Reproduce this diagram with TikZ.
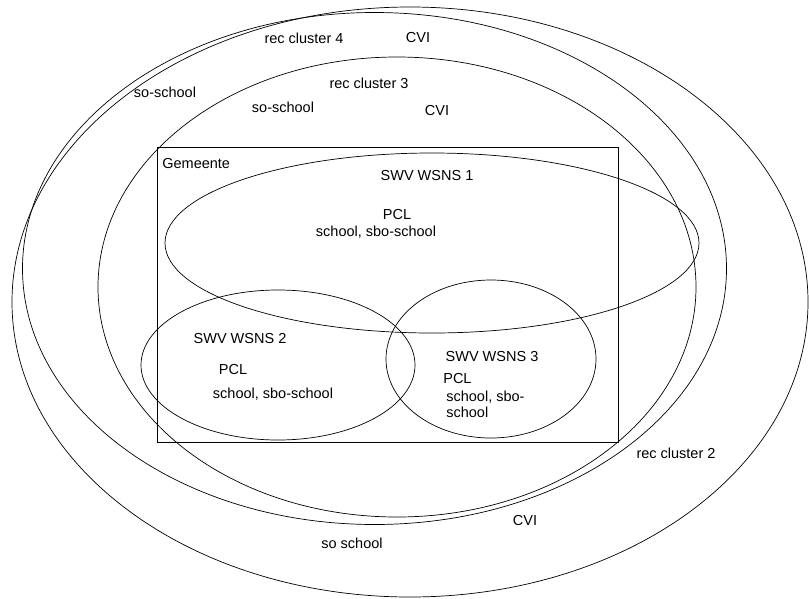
\documentclass[tikz,border=0pt]{standalone}
\usepackage{fontspec}
\setmainfont{Liberation Sans}

\begin{document}
\begin{tikzpicture}[x=1pt, y=-1pt, line width=0.7pt,
		lbl/.style={anchor=base, inner sep=0pt, font=\fontsize{14.5}{16}\selectfont},
		lblw/.style={lbl, anchor=base west}]
		\useasboundingbox (0,0) rectangle (809,598);

		\coordinate (clus2) at (410,302);
		\coordinate (clus4) at (374.5,268.5);
		\coordinate (clus3) at (397,287);

		\coordinate (gem-nw) at (157,147);
		\coordinate (gem-se) at (618,442);

		\coordinate (wsns1) at (432,243);
		\coordinate (wsns2) at (278,365);
		\coordinate (wsns3) at (491,359);

		\draw (clus2) ellipse [x radius=398, y radius=295];
		\draw (clus4) ellipse [x radius=352, y radius=256];
		\draw (clus3) ellipse [x radius=299, y radius=230];

		\draw (gem-nw) rectangle (gem-se);

		\draw (wsns1) ellipse [x radius=267, y radius=90];
		\draw (wsns2) ellipse [x radius=137, y radius=75];
		\draw (wsns3) ellipse [x radius=105, y radius=79];

		\node[lbl] (rc4) at (304,43) {rec cluster 4};
		\node[lbl] (cvi4) at (418,42) {CVI};
		\node[lbl] (so4) at (165,97) {so-school};
		\node[lbl] (rc3) at (369,88) {rec cluster 3};
		\node[lbl] (so3) at (283,112) {so-school};
		\node[lbl] (cvi3) at (437,115) {CVI};
		\node[lblw] (gem) at (162,168) {Gemeente};

		\node[lbl] (sw1) at (427,180) {SWV WSNS 1};
		\node[lbl] (pcl1) at (397,219) {PCL};
		\node[lbl] (sch1) at (376,236) {school, sbo-school};

		\node[lbl] (sw2) at (240,343) {SWV WSNS 2};
		\node[lbl] (pcl2) at (233,374) {PCL};
		\node[lbl] (sch2) at (273,398) {school, sbo-school};

		\node[lbl] (sw3) at (492,361) {SWV WSNS 3};
		\node[lblw] (pcl3) at (443,383) {PCL};
		\node[lblw] (sch3a) at (446,401) {school, sbo-};
		\node[lblw] (sch3b) at (446,417) {school};

		\node[lbl] (rc2) at (676,458) {rec cluster 2};
		\node[lbl] (cvi2) at (525,525) {CVI};
		\node[lbl] (so2) at (352,548) {so school};
	\end{tikzpicture}
\end{document}
